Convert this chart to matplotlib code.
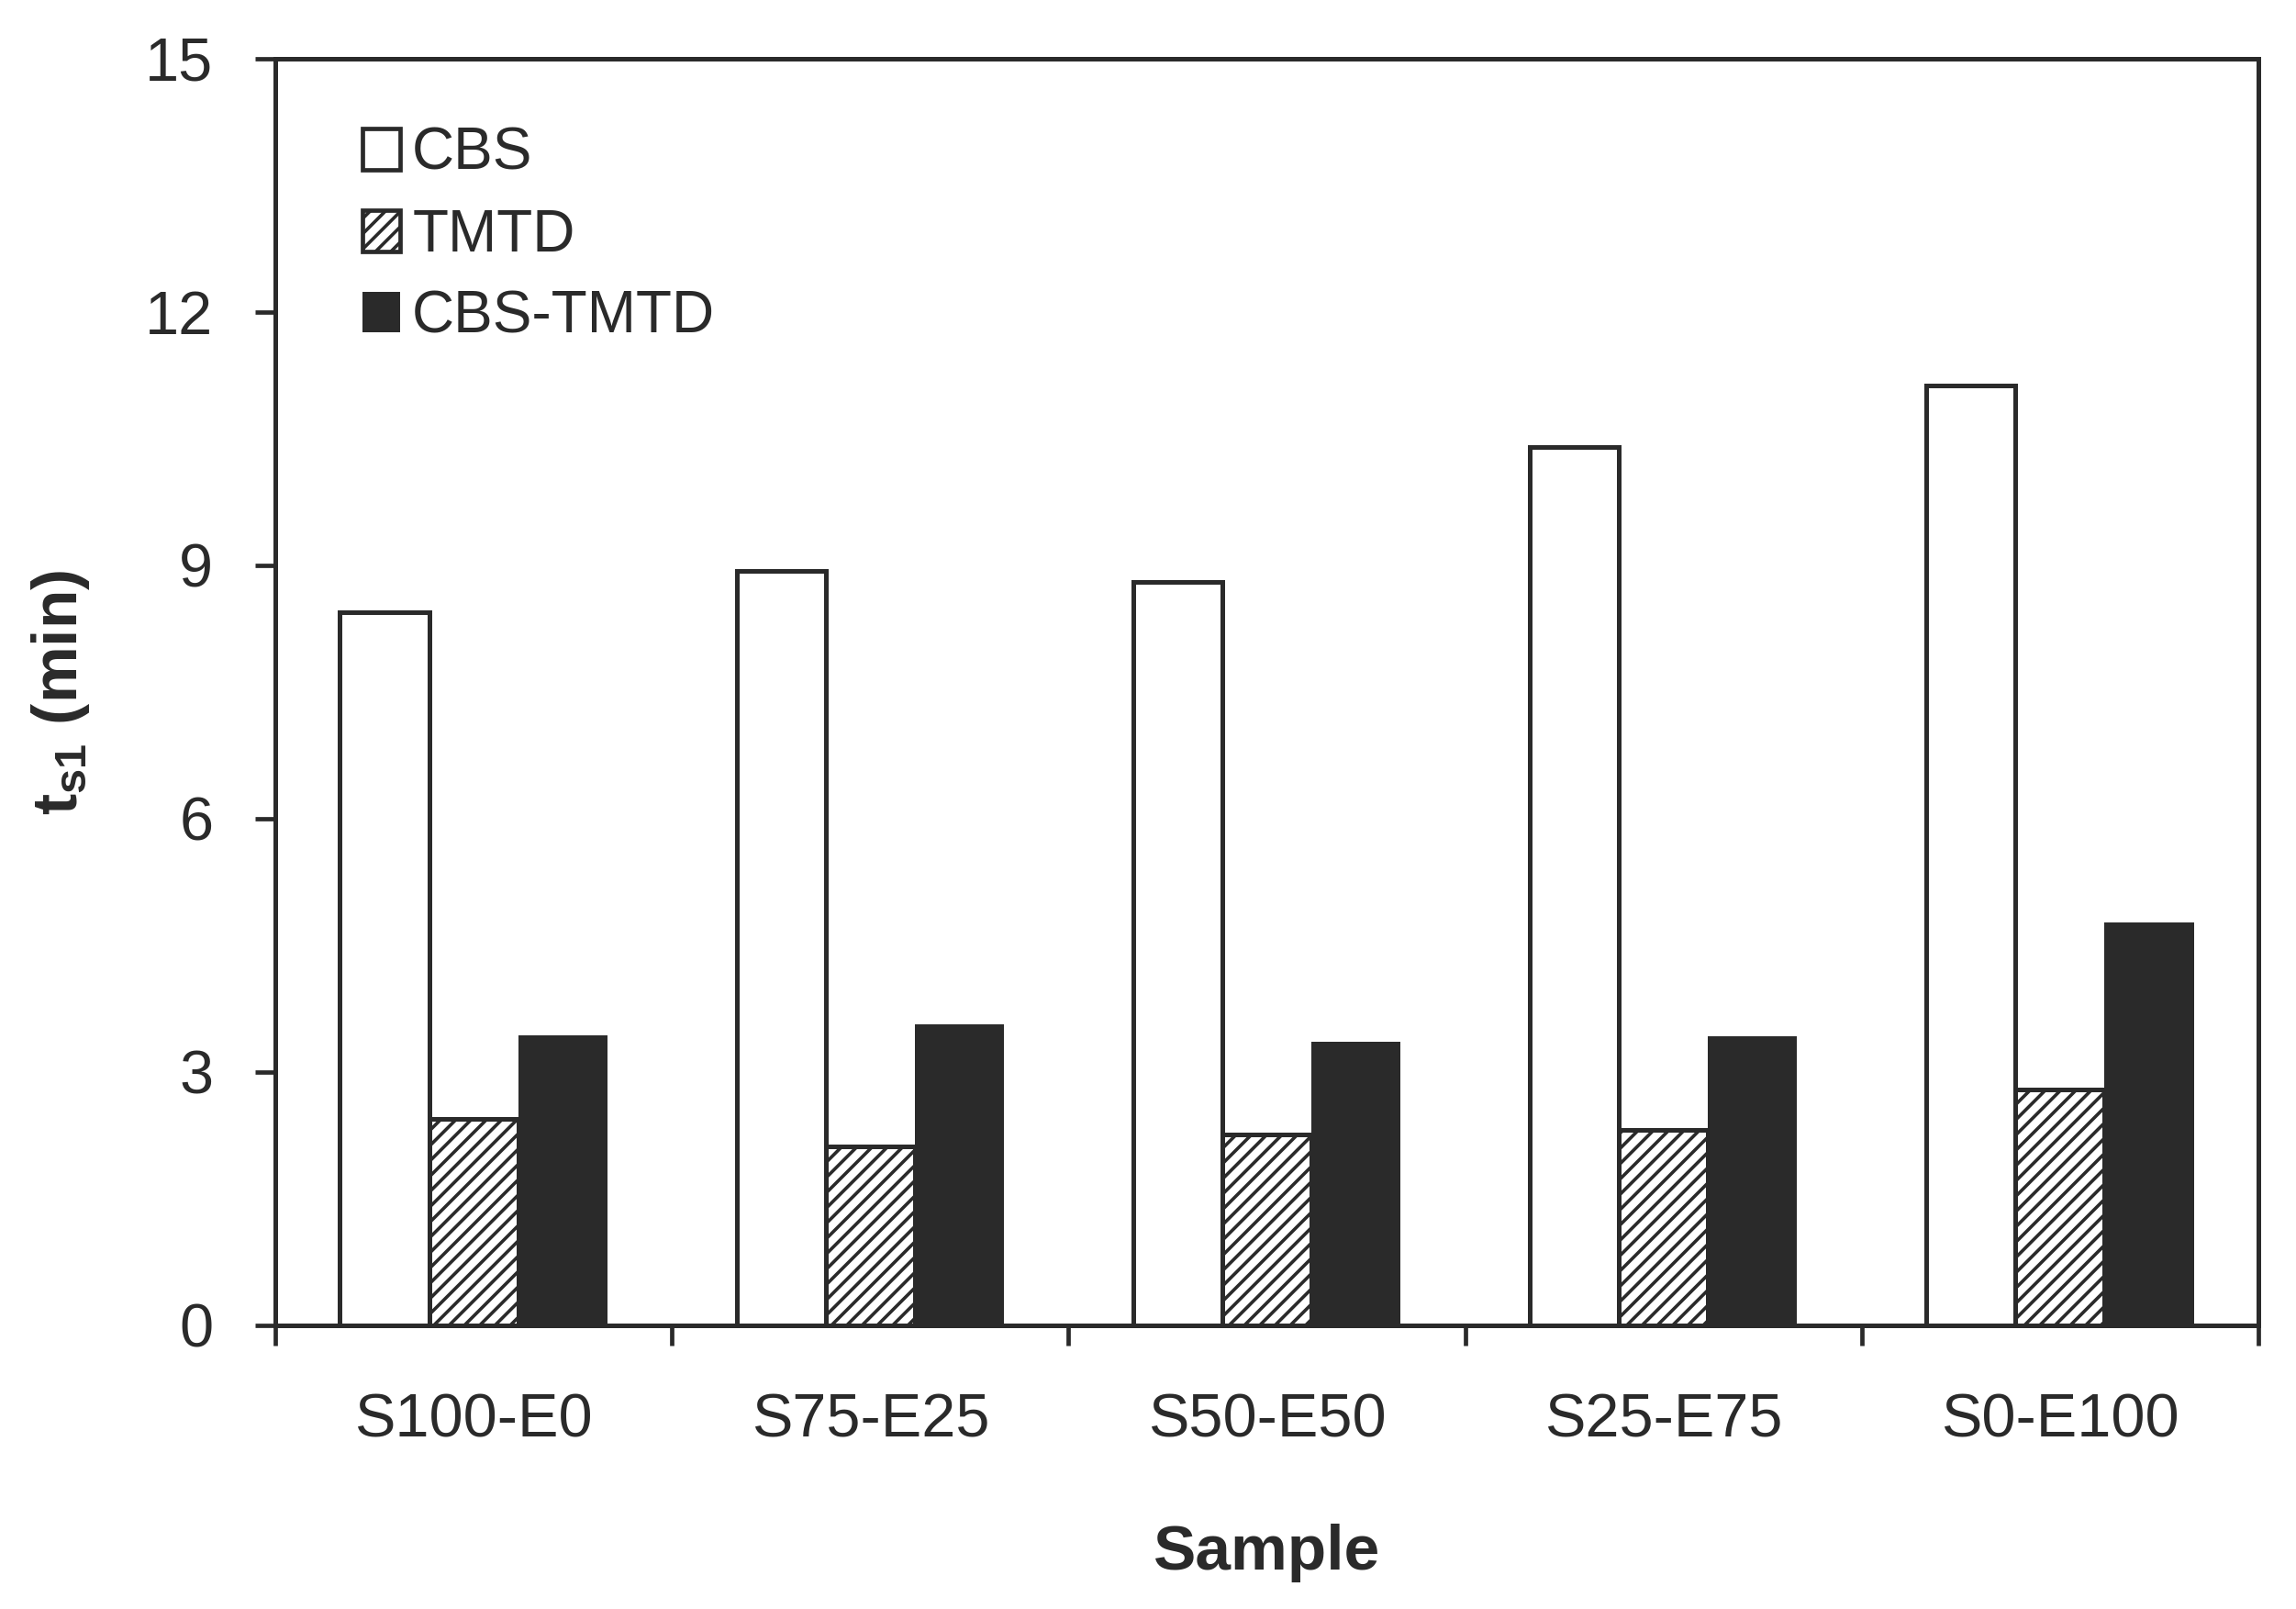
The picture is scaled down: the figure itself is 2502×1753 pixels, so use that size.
import matplotlib
matplotlib.use("Agg")
import matplotlib.pyplot as plt
import numpy as np
from matplotlib.patches import Patch

samples = ["S100-E0", "S75-E25", "S50-E50", "S25-E75", "S0-E100"]
cbs = [8.45, 8.93, 8.80, 10.40, 11.13]
tmtd = [2.45, 2.12, 2.26, 2.32, 2.79]
cbs_tmtd = [3.43, 3.56, 3.36, 3.42, 4.77]
yticks = [0, 3, 6, 9, 12, 15]

dark = "#2a2a2a"
font = ["Liberation Sans", "DejaVu Sans"]
plt.rcParams["font.family"] = font
plt.rcParams["hatch.linewidth"] = 2.6
plt.rcParams["mathtext.fontset"] = "custom"
plt.rcParams["mathtext.rm"] = "Liberation Sans"
plt.rcParams["mathtext.bf"] = "Liberation Sans:bold"
plt.rcParams["mathtext.it"] = "Liberation Sans:italic"

fig = plt.figure(figsize=(25.02, 17.53), dpi=100)
ax = fig.add_axes([0.120, 0.1763, 0.8635, 0.7872])

x = np.arange(len(samples))
w = 0.225
ax.bar(x - w, cbs, w, color="white", edgecolor=dark, linewidth=3.6, label="CBS")
ax.bar(x, tmtd, w, color="white", edgecolor=dark, linewidth=3.6, hatch="//", label="TMTD")
ax.bar(x + w, cbs_tmtd, w, color=dark, edgecolor=dark, linewidth=0, label="CBS-TMTD")

ax.set_xlim(-0.5, len(samples) - 0.5)
ax.set_ylim(0, 15)
ax.set_yticks(yticks)
ax.set_yticklabels([str(v) for v in yticks])

ax.set_xticks(np.arange(len(samples) + 1) - 0.5)
ax.set_xticklabels([""] * (len(samples) + 1))
ax.set_xticks(x, minor=True)
ax.set_xticklabels(samples, minor=True)

for s in ax.spines.values():
    s.set_linewidth(3.6)
    s.set_color(dark)

ax.tick_params(axis="both", which="major", direction="out", length=16, width=3.4, color=dark)
ax.tick_params(axis="y", labelsize=48, labelcolor=dark, pad=33)
ax.tick_params(axis="x", which="minor", length=0, labelsize=48, labelcolor=dark, pad=53)
ax.tick_params(axis="x", which="major", labelsize=1)

ax.set_ylabel(r"$\mathbf{t_{s1}}$ (min)", fontsize=50, fontweight="bold", color=dark, labelpad=42)
ax.set_xlabel("Sample", fontsize=50, fontweight="bold", color=dark, labelpad=58)

handles = [
    Patch(facecolor="white", edgecolor=dark, linewidth=3.4, label="CBS"),
    Patch(facecolor="white", edgecolor=dark, linewidth=3.4, hatch="//", label="TMTD"),
    Patch(facecolor=dark, edgecolor=dark, linewidth=0, label="CBS-TMTD"),
]
leg = ax.legend(handles=handles, loc="upper left", bbox_to_anchor=(0.032, 0.965),
                frameon=False, fontsize=46, handlelength=0.65, handleheight=0.7,
                handletextpad=0.2, labelspacing=0.45, borderaxespad=0)
for t in leg.get_texts():
    t.set_color(dark)

fig.savefig("out.png", dpi=100)
